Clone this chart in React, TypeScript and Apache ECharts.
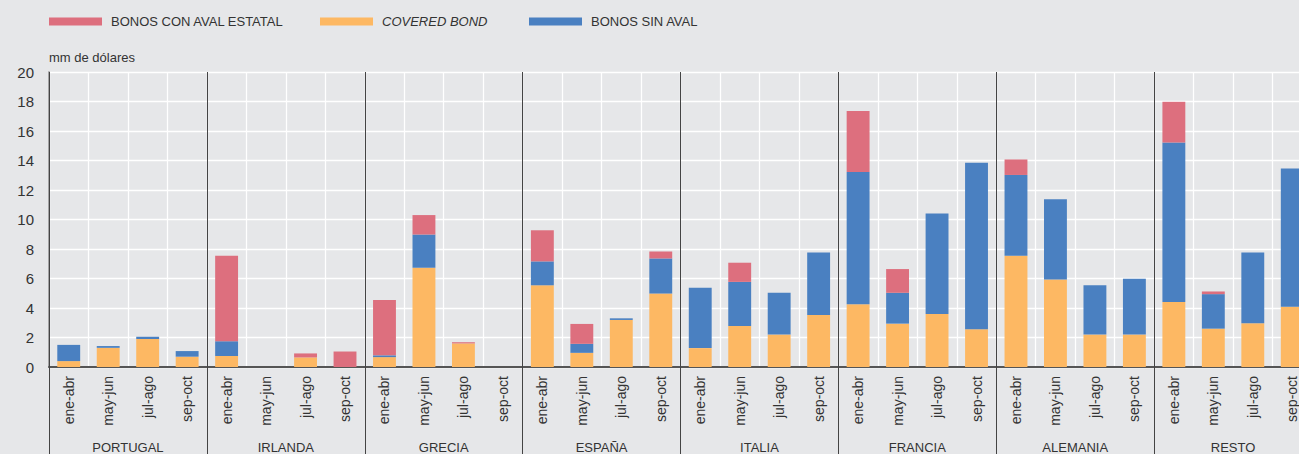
import React, { useEffect, useRef } from "react";
import * as echarts from "echarts";

const periods = ["ene-abr", "may-jun", "jul-ago", "sep-oct"];
const countries = ["PORTUGAL", "IRLANDA", "GRECIA", "ESPAÑA", "ITALIA", "FRANCIA", "ALEMANIA", "RESTO"];

const seriesNames = ["BONOS CON AVAL ESTATAL", "COVERED BOND", "BONOS SIN AVAL"];

// values in mm de dólares, 4 periods per country
const coveredBond = [
  0.4, 1.3, 1.9, 0.7,
  0.75, 0, 0.65, 0,
  0.67, 6.73, 1.6, 0,
  5.54, 0.96, 3.19, 4.98,
  1.28, 2.78, 2.2, 3.52,
  4.26, 2.94, 3.59, 2.56,
  7.54, 5.93, 2.2, 2.2,
  4.4, 2.6, 2.96, 4.09,
];
const sinAval = [
  1.1, 0.12, 0.15, 0.38,
  1.0, 0, 0, 0,
  0.12, 2.25, 0, 0,
  1.62, 0.61, 0.11, 2.38,
  4.09, 2.99, 2.83, 4.25,
  8.96, 2.09, 6.82, 11.29,
  5.48, 5.45, 3.34, 3.79,
  10.82, 2.34, 4.81, 9.36,
];
const conAval = [
  0, 0, 0, 0,
  5.8, 0, 0.27, 1.05,
  3.75, 1.32, 0.08, 0,
  2.11, 1.35, 0, 0.47,
  0, 1.3, 0, 0,
  4.13, 1.61, 0, 0,
  1.05, 0, 0, 0,
  2.76, 0.18, 0, 0,
];

const yTicks = { min: 0, max: 20, interval: 2 };

const colors = { con: "#DD6F7E", cov: "#FDB863", sin: "#4A80C1" };
const FONT = "'Liberation Sans', Arial, sans-serif";

export default function App() {
  const ref = useRef<HTMLDivElement>(null);

  useEffect(() => {
    if (!ref.current) return;
    const chart = echarts.init(ref.current, null, { renderer: "svg" });
    const categories: string[] = [];
    countries.forEach(() => periods.forEach((p) => categories.push(p)));

    const legendBase = {
      top: 15,
      padding: 0,
      itemWidth: 53,
      itemHeight: 8,
      icon: "rect",
      selectedMode: false,
    };
    const legendText = { fontSize: 13, color: "#333", fontFamily: FONT, padding: [0, 0, 0, 4] };

    chart.setOption({
      animation: false,
      backgroundColor: "#E6E7E9",
      textStyle: { fontFamily: FONT },
      title: {
        text: "mm de dólares",
        left: 49,
        top: 51,
        padding: 0,
        textStyle: { fontSize: 13, fontWeight: "normal", color: "#333", fontFamily: FONT },
      },
      legend: [
        { ...legendBase, left: 49, data: [seriesNames[0]], textStyle: legendText },
        { ...legendBase, left: 320, data: [seriesNames[1]], textStyle: { ...legendText, fontStyle: "italic" } },
        { ...legendBase, left: 529, data: [seriesNames[2]], textStyle: legendText },
      ],
      grid: { left: 49, right: 8, top: 72, bottom: 85, containLabel: false },
      xAxis: [
        {
          type: "category",
          data: categories,
          position: "bottom",
          axisLine: { show: true, lineStyle: { color: "#555", width: 2 } },
          axisTick: { show: false },
          axisLabel: {
            interval: 0,
            rotate: 90,
            margin: 9,
            fontSize: 14,
            color: "#333",
            fontFamily: FONT,
          },
          splitLine: { show: true, interval: 0, lineStyle: { color: "#FFFFFF", width: 1.3 } },
          z: 1,
        },
        {
          type: "category",
          data: countries,
          position: "bottom",
          offset: 0,
          axisLine: { show: false },
          axisTick: { show: true, interval: 0, length: 90, lineStyle: { color: "#444", width: 1 } },
          axisLabel: {
            interval: 0,
            margin: 74,
            fontSize: 13,
            color: "#333",
            verticalAlign: "top",
            fontFamily: FONT,
          },
          splitLine: { show: true, interval: 0, lineStyle: { color: "#444", width: 1 } },
          z: 3,
        },
      ],
      yAxis: {
        type: "value",
        min: yTicks.min,
        max: yTicks.max,
        interval: yTicks.interval,
        axisLine: { show: true, lineStyle: { color: "#777", width: 1.5 } },
        axisTick: { show: false },
        axisLabel: { margin: 15, fontSize: 15, color: "#333", fontFamily: FONT },
        splitLine: { show: true, lineStyle: { color: "#FFFFFF", width: 1.3 } },
      },
      series: [
        {
          name: seriesNames[1],
          type: "bar",
          stack: "total",
          xAxisIndex: 0,
          data: coveredBond,
          barCategoryGap: "42%",
          itemStyle: { color: colors.cov },
          z: 4,
        },
        {
          name: seriesNames[2],
          type: "bar",
          stack: "total",
          xAxisIndex: 0,
          data: sinAval,
          barCategoryGap: "42%",
          itemStyle: { color: colors.sin },
          z: 4,
        },
        {
          name: seriesNames[0],
          type: "bar",
          stack: "total",
          xAxisIndex: 0,
          data: conAval,
          barCategoryGap: "42%",
          itemStyle: { color: colors.con },
          z: 4,
        },
      ],
    });
    return () => chart.dispose();
  }, []);

  return (
    <div style={{ position: "fixed", left: 0, top: 0, width: 1299, height: 454, overflow: "hidden", background: "#E6E7E9" }}>
      <div ref={ref} style={{ width: 1320, height: 454 }} />
    </div>
  );
}
